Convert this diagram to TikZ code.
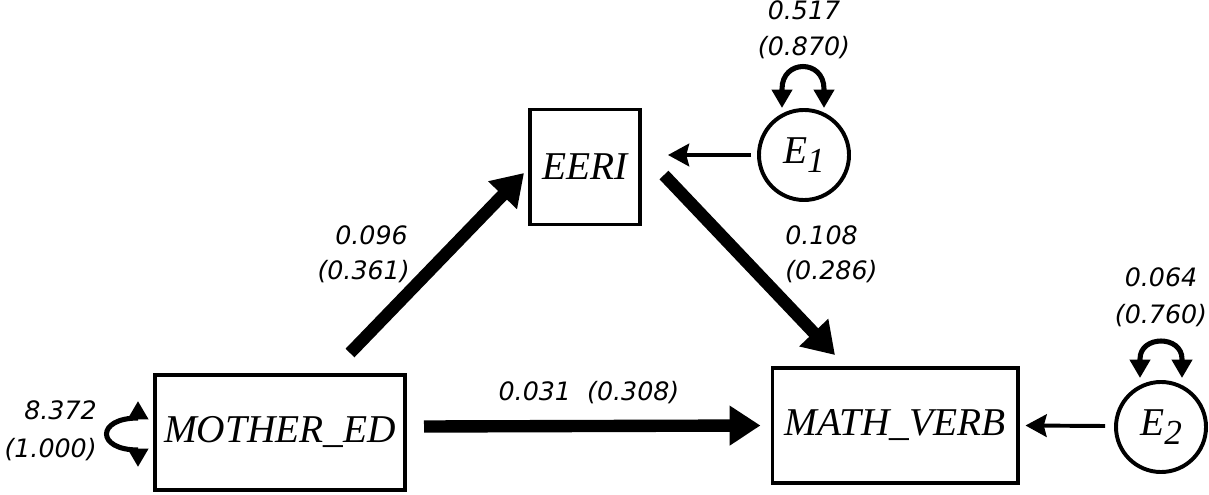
\documentclass[tikz,border=0pt]{standalone}
\usepackage{fontspec}
\usetikzlibrary{arrows.meta}
\newfontfamily\estfont{DejaVu Sans}
\newfontfamily\varfont{Liberation Serif}
\newcommand{\errsub}[1]{\raisebox{-6pt}{\fontsize{25}{28}\selectfont #1}}

\tikzset{
  var/.style={draw,line width=2.8pt,inner sep=0pt,minimum height=2.875cm,
    font=\varfont\itshape\fontsize{28}{32}\selectfont},
  err/.style={draw,circle,line width=2.8pt,inner sep=0pt,
    font=\varfont\itshape\fontsize{28}{32}\selectfont},
  est/.style={inner sep=0pt,font=\estfont\itshape\fontsize{18}{22}\selectfont},
  path/.style={line width=8.8pt,-{Triangle[length=22pt,width=27pt]}},
  res/.style={line width=2.8pt,-{Stealth[length=15pt,width=16pt,inset=2pt]}},
  var loop/.style={line width=3.6pt,
    {Triangle[length=13pt,width=14pt]}-{Triangle[length=13pt,width=14pt]}},
}

\begin{document}
\begin{tikzpicture}[x=0.025cm,y=0.025cm]
  \useasboundingbox (0,0) rectangle (1209,494);

  \path
  (280,61.5) node[var,minimum width=6.25cm](mother) {MOTHER\_ED}
  (585,327) node[var,minimum width=2.75cm](eeri) {EERI}
  (895,68.5) node[var,minimum width=6.125cm](math) {MATH\_VERB}
  ;
  \path
  (804,339) node[err,minimum size=2.25cm](e1) {E\errsub{1}}
  (1161,67) node[err,minimum size=2.25cm](e2) {E\errsub{2}}
  ;

  % estimates
  \path
  (408,259) node[est,anchor=east](a1) {0.096}
  (410,222) node[est,anchor=east](a2) {(0.361)}
  (785,259) node[est,anchor=west](b1) {0.108}
  (785,222) node[est,anchor=west](b2) {(0.286)}
  (589,101) node[est](c1) {0.031\ \ (0.308)}
  (804,484) node[est](v1) {0.517}
  (804,446) node[est](v2) {(0.870)}
  (1161,217) node[est](w1) {0.064}
  (1161,178) node[est](w2) {(0.760)}
  (97,84) node[est,anchor=east](m1) {8.372}
  (97,44) node[est,anchor=east](m2) {(1.000)}
  ;

  \draw[path] ([shift={(70,20)}]mother.north) -- ([shift={(-4,-6)}]eeri.west);
  \draw[path] ([shift={(22,-8)}]eeri.east) -- ([shift={(-60,11)}]math.north);
  \draw[path] ([shift={(17,6)}]mother.east) -- ([xshift=-0.25cm]math.west);

  \draw[res] ([xshift=-0.15cm]e1.west) -- ([shift={(26,12)}]eeri.east);
  \draw[res] ([shift={(-9,1)}]e2.west) -- ([xshift=0.15cm]math.east);

  % variances
  \draw[var loop] ([shift={(-15,31.5)}]mother.west) -- ++(0,-17)
    to[out=180,in=180,distance=1.05cm] ++(0,-32) -- ++(0,-17);
  \draw[var loop] ([shift={(-22,0)}]e1.north) -- ++(0,19)
    to[out=90,in=90,distance=0.75cm] ++(42,0) -- ++(0,-19);
  \draw[var loop] ([shift={(-21,2)}]e2.north) -- ++(0,19)
    to[out=90,in=90,distance=0.6cm] ++(42,0) -- ++(0,-19);
\end{tikzpicture}
\end{document}
